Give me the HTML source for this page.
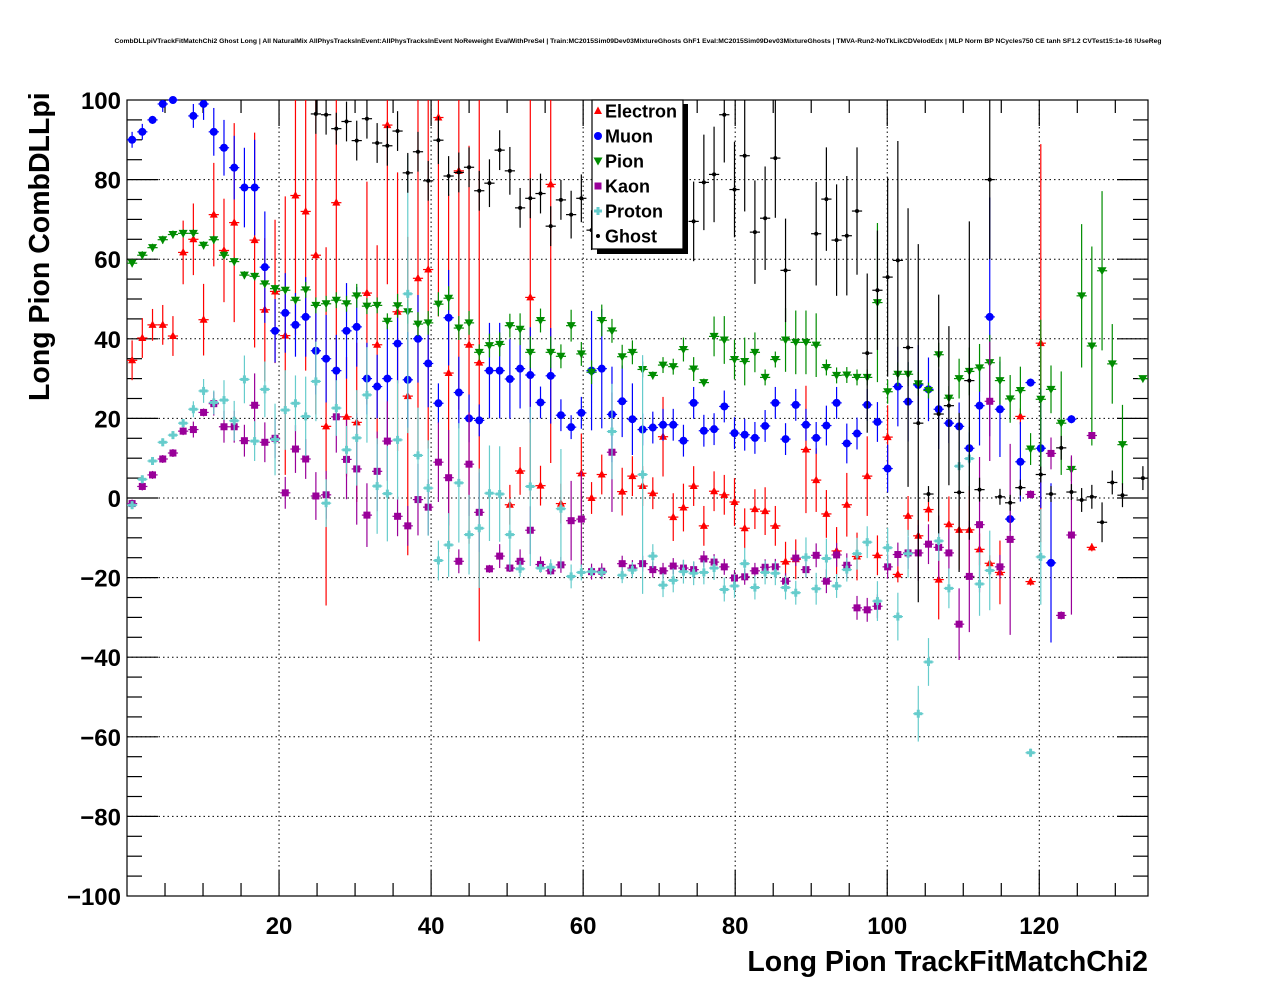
<!DOCTYPE html>
<html><head><meta charset="utf-8"><style>
body{margin:0;background:#fff;}
svg{display:block;font-family:"Liberation Sans",sans-serif;}
</style></head><body>
<svg id="chart" width="1276" height="996" viewBox="0 0 1276 996" xmlns="http://www.w3.org/2000/svg">
<rect width="1276" height="996" fill="#fff"/>
<text x="638" y="43" font-size="6.75" font-weight="bold" text-anchor="middle">CombDLLpiVTrackFitMatchChi2 Ghost Long | All NaturalMix AllPhysTracksInEvent:AllPhysTracksInEvent NoReweight EvalWithPreSel | Train:MC2015Sim09Dev03MixtureGhosts GhF1 Eval:MC2015Sim09Dev03MixtureGhosts | TMVA-Run2-NoTkLikCDVelodEdx | MLP Norm BP NCycles750 CE tanh SF1.2 CVTest15:1e-16 !UseReg</text>
<g id="grid"></g>
<g id="axes"></g>
<g id="marks"></g>
<text transform="translate(49,401) rotate(-90)" font-size="28.5" font-weight="bold" text-anchor="start">Long Pion CombDLLpi</text>
<text x="1148" y="971" font-size="28.5" font-weight="bold" text-anchor="end">Long Pion TrackFitMatchChi2</text>
<g id="legend"></g>
</svg>
<script>
const xTicks=[20,40,60,80,100,120];
const yTicks=[100,80,60,40,20,0,-20,-40,-60,-80,-100];
const binWidth=1.343;
const seriesNames=["Electron","Muon","Pion","Kaon","Proton","Ghost"];
const electronY=[34.6,40.2,43.5,43.5,40.7,61.7,65,44.8,71.2,62.2,69.2,null,64.8,47.3,51.9,40.8,76,72,61,18,74.2,20.4,19,51.5,38.5,93.7,46.8,25.6,55.2,57.4,95.6,31.4,82.2,38.5,34,null,null,-1.7,6.8,50.4,3.1,78.8,-1.4,null,6.2,0,5.9,null,1.6,5.5,3,1.2,15.4,-4.8,-2.4,3,-7,1.7,0.8,-1,-7.6,-2.8,-3.3,-7,-16,-15.4,12.2,4.5,-4,-13.3,-1.7,-14.7,5.5,-14.4,15.3,-19.2,-4.5,-9.5,-2.9,-20.5,-6.6,-8,-8,-12.9,-16.4,-18.7,null,20.5,-21,38.9,null,null,null,null,-12.4,null,null,null,null,null];
const electronErr=[5,5,4,5,5,8,9,9,13,13,25,0,27,18,18,35,35,40,40,45,45,15,20,28,25,40,35,40,45,45,50,45,60,50,70,0,0,5,6,50,5,70,5,0,10,4,5,0,6,5,5,4,10,6,6,5,5,5,5,6,5,5,6,5,5,5,16,8,6,6,8,6,10,5,8,2,5,4,3,10,7,10,11,4,2,8,0,2,1,50,0,0,0,0,1,0,0,0,0,0];
const muonY=[90,92,95,99,100,null,96,99,92,88,83,78,78,58,42,46.5,43.5,45.5,37,35,32,42,43,30,28,30,38.8,29.7,40,33.8,23.8,45.3,26.5,20,19.5,32,32,29.9,32.5,30.9,24,30.7,20.8,17.8,21.4,32,32.5,21,24.3,19.8,17.2,17.7,18.4,18.4,14.4,23.9,16.9,17.3,23,16.3,15.9,15.1,18.1,23.9,14.8,23.4,18.4,15.1,18.2,23.9,13.7,16.2,23.4,19.1,7.4,28,24.2,28.4,27.3,22.3,18.8,18,12.5,23.2,45.5,22.3,-5.3,9.1,29,12.5,-16.3,null,19.8,null,null,null,null,null,null,null];
const muonErr=[2,2,1,2,1,0,3,4,6,7,8,10,12,14,8,10,8,10,11,11,9,12,10,9,8,15,10,12,11,11,5,12,9,6,4,12,12,10,10,12,4,12,4,3,4,15,15,12,9,9,4,4,4,4,4,4,4,4,4,4,4,4,4,4,4,4,4,4,5,4,5,4,4,5,6,10,10,10,8,10,5,6,4,10,30,12,3,10,1,15,20,0,1,0,0,0,0,0,0,0];
const pionY=[59,61,62.9,64.9,66.2,66.5,66.5,63.5,64.9,61,59.4,56,55.7,53.8,52.6,52.2,49.7,52.3,48.4,48.8,49.7,48.8,50.8,48.2,48.4,44.4,48.3,46.8,43.7,44,48.7,50.2,42.7,44,36.6,38.3,38.6,43.3,42.4,36.6,44.6,36.6,35.6,43.3,36.2,31.6,44.6,42,35.5,36.6,32.3,30.8,33.4,33,37.3,32.4,29,40.6,39.7,34.8,34.3,36.6,30.3,34.8,39.7,39.1,39.1,38.4,32.8,30.8,30.9,30.3,30.3,49.1,26.7,31.1,31.1,28.7,27,36,25.1,30,31.8,32.7,34,29.5,24.9,27,12.3,24.8,27.3,18.8,7.2,50.8,38.2,57.1,33.7,13.4,null,30];
const pionErr=[1,1,1,1,1,1,1,1,1,1,1,1,1,1,1,1,1,2,2,2,2,2,3,2,2,2,3,3,3,3,3,3,3,3,2,3,3,3,4,4,3,4,3,4,3,3,4,3,3,3,2,1,2,2,3,3,1,5,6,5,6,5,2,2,8,8,8,8,2,2,2,2,2,20,3,3,3,3,2,3,3,5,6,6,7,6,6,6,4,20,6,13,3,18,25,20,10,10,0,0];
const kaonY=[-1.4,2.9,5.8,9.8,11.3,16.8,17.2,21.5,23.7,17.9,17.9,14.4,23.3,14,15,1.3,12.3,9.8,0.5,0.8,20.4,9.7,7.3,-4.3,6.7,14.3,-4.6,-7,-0.4,-2.3,9,5.1,-15.9,8.5,-3.6,-17.8,-14.6,-17.6,-15.9,-8.1,-16.7,-18.3,-16.8,-5.7,-5.3,-18.5,-18.4,11.5,-16.5,-17.6,-16.5,-18,-18.3,-17.1,-17.6,-18,-15.3,-16.1,-17.3,-20.1,-19.8,-18.3,-17.4,-17.3,-20.9,-15.1,-18,-14.4,-20.9,-14.3,-16.9,-27.6,-28.1,-27.2,-17.3,-14.2,-13.8,-13.8,-11.6,-12.4,-13.8,-31.7,-19.7,-6.7,24.3,-17.3,-10.4,null,0.9,null,11.2,-29.5,-9.3,null,15.7,null,null,null,null,null];
const kaonErr=[1,1,1,1,1,1,2,1,3,4,4,4,8,5,5,4,6,5,6,6,9,10,14,8,10,10,5,5,9,7,10,12,3,13,10,1,3,1,3,6,2,1,2,10,12,2,2,15,2,2,2,2,2,2,2,2,2,2,2,2,2,2,2,2,2,2,2,3,3,3,3,3,3,3,3,3,4,7,5,8,6,9,14,17,15,3,24,0,1,0,4,1,20,0,0,0,0,0,0,0];
const protonY=[-1.8,4.7,9.3,14,15.8,18.8,22.3,26.9,24,24.6,19.4,29.8,14.3,27.3,14.7,22.1,23.8,20.5,29.3,-1.3,22.6,12.1,15.1,25.9,3,1.1,14.6,51.3,10.7,2.5,-15.7,-11.8,3.8,-9.2,-7.6,1.2,1,-9.2,-17.8,2.9,-17.6,-17.4,-2.7,-19.7,-18.7,-18.5,-18.7,16.7,-19.4,-18.1,5.9,-14.6,-21.9,-20.7,-18.5,-18.9,-18.7,-17.6,-23,-22.1,-16.5,-22.5,-18.7,-18.9,-22.5,-23.8,-14.9,-22.8,-15.2,-22.1,-18,-14,-11.1,-25.9,-12.5,-29.8,-14,-54.2,-41.2,-10.8,-22.7,8,9.9,-21.6,-18.2,null,null,null,-64,-14.8,null,null,null,null,null,null,null,null,null,null];
const protonErr=[1,1,1,1,1,1,2,3,3,5,5,6,5,7,9,10,7,10,10,6,7,6,12,12,12,12,15,35,12,12,5,8,15,10,15,12,12,9,2,20,1,2,15,3,2,1,1,12,2,2,30,3,3,3,3,3,3,3,3,3,4,3,3,3,3,3,5,4,5,3,3,4,4,5,5,6,6,7,6,5,5,10,8,8,10,0,0,0,1,12,0,0,0,0,0,0,0,0,0,0];
const ghostY=[null,null,null,null,null,null,null,null,null,null,null,null,null,null,null,null,null,null,96.5,96.3,92.8,94.6,89.8,95.3,89.2,88.5,92.2,81.7,87,79.7,89.9,80.9,81.8,83.1,77.2,79.1,87.4,82.2,72.9,75.3,76.5,68.3,74.9,71.2,75.3,67.3,null,null,null,null,null,null,null,null,null,69.5,79.3,81.3,96.3,77.5,86,66.8,70.3,85.4,57.2,null,null,66.4,75.1,64.8,65.9,72.1,36.4,52.2,55.5,59.7,37.8,18.8,1,21.1,23.2,1.4,29.5,2.1,80,0.3,-1.2,2.6,null,5.9,1,12.6,1.5,-0.5,0.3,-6.1,3.9,0.7,null,5];
const ghostErr=[0,0,0,0,0,0,0,0,0,0,0,0,0,0,0,0,0,0,5,5,4,5,5,5,5,5,5,5,5,5,6,5,5,5,5,6,5,6,5,5,5,5,5,6,6,5,0,0,0,0,0,0,0,0,0,10,12,12,12,12,14,13,13,15,13,0,0,13,13,14,15,16,20,15,25,30,35,45,2,30,20,20,40,3,20,2,2,2,0,2,2,3,2,3,3,5,3,3,0,3];
const seriesY=[electronY,muonY,pionY,kaonY,protonY,ghostY];
const seriesErr=[electronErr,muonErr,pionErr,kaonErr,protonErr,ghostErr];
const colors=["#ff0000","#0000ff","#008c00","#990099","#66cccc","#000000"];

const L=127,R=1148,T=100,B=896;
const xMin=0,xMax=134.3,yMin=-100,yMax=100;
function X(v){return L+(v-xMin)/(xMax-xMin)*(R-L);}
function Y(v){return B-(v-yMin)/(yMax-yMin)*(B-T);}
const NS="http://www.w3.org/2000/svg";
function mk(tag,attrs,parent){const e=document.createElementNS(NS,tag);for(const k in attrs)e.setAttribute(k,attrs[k]);parent.appendChild(e);return e;}
const grid=document.getElementById('grid'),axes=document.getElementById('axes'),marks=document.getElementById('marks'),legend=document.getElementById('legend');

xTicks.forEach(v=>{const l=mk('line',{x1:X(v),x2:X(v),y1:T,y2:B,stroke:'#000','stroke-width':1,'stroke-dasharray':'1.5,3'},grid);

});
yTicks.forEach(v=>{if(v===100||v===-100)return;const l=mk('line',{x1:L,x2:R,y1:Y(v),y2:Y(v),stroke:'#000','stroke-width':1,'stroke-dasharray':'1.5,3'},grid);

});

const frame=mk('rect',{x:L,y:T,width:R-L,height:B-T,fill:'none',stroke:'#000','stroke-width':1.2},axes);


for(let v=5;v<xMax;v+=5){const maj=v%20===0;const h=maj?26:13;
mk('line',{x1:X(v),x2:X(v),y1:B,y2:B-h,stroke:'#000','stroke-width':1.2},axes);
mk('line',{x1:X(v),x2:X(v),y1:T,y2:T+h,stroke:'#000','stroke-width':1.2},axes);}
for(let v=-95;v<100;v+=5){const maj=v%20===0;const h=maj?31:15;
mk('line',{x1:L,x2:L+h,y1:Y(v),y2:Y(v),stroke:'#000','stroke-width':1.2},axes);
mk('line',{x1:R,x2:R-h,y1:Y(v),y2:Y(v),stroke:'#000','stroke-width':1.2},axes);}
xTicks.forEach(v=>{const t=mk('text',{x:X(v),y:934,'font-size':24,'font-weight':'bold','text-anchor':'middle'},axes);t.textContent=v;

});
yTicks.forEach(v=>{const t=mk('text',{x:121,y:Y(v)+9,'font-size':24,'font-weight':'bold','text-anchor':'end'},axes);t.textContent=v<0?'\u2212'+(-v):v;

});

function marker(s,cx,cy,c,g){
 if(s===0)mk('polygon',{points:`${cx},${cy-4.5} ${cx+4},${cy+3} ${cx-4},${cy+3}`,fill:c},g);
 else if(s===1)mk('circle',{cx:cx,cy:cy,r:4,fill:c},g);
 else if(s===2)mk('polygon',{points:`${cx-4.5},${cy-3.5} ${cx+4.5},${cy-3.5} ${cx},${cy+4.5}`,fill:c},g);
 else if(s===3)mk('rect',{x:cx-3.5,y:cy-3.5,width:7,height:7,fill:c},g);
 else if(s===4){mk('rect',{x:cx-4,y:cy-1.5,width:8,height:3,fill:c},g);mk('rect',{x:cx-1.5,y:cy-4,width:3,height:8,fill:c},g);}
 else mk('circle',{cx:cx,cy:cy,r:2,fill:c},g);
}
function clip(p){return Math.max(T,Math.min(B,p));}
seriesY.forEach((arr,s)=>{const g=mk('g',{},marks);


 arr.forEach((v,i)=>{if(v===null)return;const xc=(i+0.5)*binWidth;const cx=X(xc),cy=Y(v);const e=seriesErr[s][i]||0;
  const hw=X(xc+binWidth/2)-cx;
  mk('line',{x1:cx-hw,x2:cx+hw,y1:cy,y2:cy,stroke:colors[s],'stroke-width':1.2},g);
  if(e>0)mk('line',{x1:cx,x2:cx,y1:clip(Y(v+e)),y2:clip(Y(v-e)),stroke:colors[s],'stroke-width':1.2},g);
  if(v<=yMax)marker(s,cx,cy,colors[s],g);});});

const lb=mk('rect',{x:597,y:104,width:91,height:150,fill:'#000'},legend);
const lr=mk('rect',{x:592,y:100,width:91,height:149,fill:'#fff',stroke:'#000','stroke-width':1.2},legend);
seriesNames.forEach((n,s)=>{const y=111+25*s;const g=mk('g',{},legend);


 marker(s,598,y,colors[s],g);
 const t=mk('text',{x:605,y:y+6.5,'font-size':18,'font-weight':'bold'},g);t.textContent=n;});
</script>
</body></html>
